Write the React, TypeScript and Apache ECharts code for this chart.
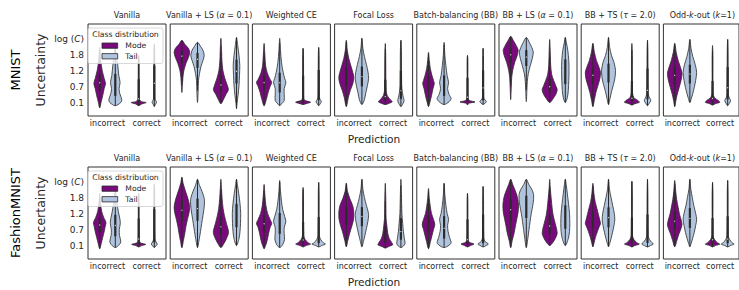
import React, { useEffect, useRef } from 'react';
import * as echarts from 'echarts';

type Profile = [number, number][]; // [uncertainty value, relative density]

const ROW_LABELS = ['MNIST', 'FashionMNIST'];
const METHOD_TITLES = [
  'Vanilla',
  'Vanilla + LS ({i|α} = 0.1)',
  'Weighted CE',
  'Focal Loss',
  'Batch-balancing (BB)',
  'BB + LS ({i|α} = 0.1)',
  'BB + TS ({i|τ} = 2.0)',
  'Odd-{i|k}-out ({i|k}=1)',
];
const X_CATEGORIES = ['incorrect', 'correct'];
const HUES = ['Mode', 'Tail'];
const Y_TICKS = [0.1, 0.65, 1.2, 1.75, 2.3];
const Y_TICK_LABELS = ['0.1', '0.7', '1.2', '1.8', 'log ({i|C})'];

// Each panel: [incorrect-Mode, incorrect-Tail, correct-Mode, correct-Tail]
const MNIST_VANILLA: Profile[] = [
  [[2.02, 0], [1.57, 1.0], [1.22, 2.5], [0.94, 4.5], [0.76, 5.8], [0.59, 4.5], [0.34, 3.0], [0.13, 1.5], [-0.08, 0]],
  [[2.02, 0], [1.74, 1.0], [1.39, 2.5], [1.04, 3.5], [0.8, 4.8], [0.59, 3.8], [0.41, 4.5], [0.2, 6.5], [0.1, 5.5], [-0.01, 0]],
  [[1.74, 0], [1.57, 0.4], [0.34, 0.5], [0.2, 0.8], [0.13, 3], [0.1, 7.5], [0.05, 3], [-0.01, 0]],
  [[2.13, 0], [1.92, 0.4], [0.24, 0.6], [0.17, 1.5], [0.1, 2.2], [0.03, 1.0], [-0.04, 0]],
];
const MNIST_VANILLA_LS: Profile[] = [
  [[2.27, 0], [2.13, 3], [1.99, 6.5], [1.85, 7.8], [1.67, 6.5], [1.46, 4], [1.22, 2], [0.97, 1], [0.69, 0.5], [0.45, 0]],
  [[2.2, 0], [2.06, 3], [1.92, 5.5], [1.74, 6.7], [1.57, 5.5], [1.36, 3.5], [1.11, 2], [0.87, 1], [0.45, 0.6], [0.1, 0]],
  [[2.34, 0], [2.09, 0.5], [1.57, 1], [1.22, 2], [0.94, 4], [0.69, 6.5], [0.55, 7.5], [0.38, 5], [0.2, 2.5], [0.06, 0]],
  [[2.37, 0], [2.09, 1.2], [1.74, 2.5], [1.39, 3.3], [1.04, 3], [0.69, 2.5], [0.34, 1.5], [0.06, 0.5], [-0.11, 0]],
];
const MNIST_WEIGHTED_CE: Profile[] = [
  [[2.16, 0], [1.74, 0.8], [1.39, 1.5], [1.15, 3], [0.94, 5.5], [0.8, 7.6], [0.66, 6], [0.45, 4], [0.24, 2.5], [-0.01, 0]],
  [[2.34, 0], [1.92, 0.8], [1.5, 1.8], [1.15, 3.5], [0.94, 5], [0.8, 6.2], [0.59, 4.5], [0.38, 4.5], [0.17, 4.5], [0.06, 2], [-0.01, 0]],
  [[1.99, 0], [1.74, 0.4], [0.34, 0.5], [0.2, 1], [0.15, 4], [0.11, 7.5], [0.06, 3], [0.03, 0]],
  [[2.02, 0], [1.74, 0.4], [0.31, 0.6], [0.2, 1.5], [0.13, 2.7], [0.06, 1.5], [-0.01, 0]],
];
const MNIST_FOCAL: Profile[] = [
  [[2.27, 0], [1.92, 1], [1.64, 2.5], [1.39, 4.5], [1.15, 6.5], [0.97, 7.5], [0.76, 6.5], [0.52, 4], [0.27, 2], [-0.04, 0]],
  [[2.34, 0], [1.99, 1], [1.71, 2.5], [1.43, 4.5], [1.15, 6.2], [0.94, 6.7], [0.69, 5.5], [0.45, 4], [0.2, 2.5], [0.03, 0]],
  [[2.16, 0], [1.74, 0.4], [0.52, 0.8], [0.34, 2], [0.2, 5], [0.13, 7], [0.06, 3], [0.03, 0]],
  [[2.27, 0], [1.92, 0.5], [0.69, 0.8], [0.45, 1.5], [0.27, 2.5], [0.17, 3.2], [0.06, 2], [-0.04, 0]],
];
const MNIST_BB: Profile[] = [
  [[1.85, 0], [1.57, 0.8], [1.29, 1.8], [1.04, 3.5], [0.87, 5], [0.76, 5.8], [0.59, 4.5], [0.34, 3], [0.13, 1.5], [-0.04, 0]],
  [[2.2, 0], [1.74, 0.8], [1.39, 1.8], [1.04, 3], [0.8, 4.5], [0.59, 3.5], [0.38, 5], [0.24, 7], [0.13, 5], [0.03, 0]],
  [[1.74, 0], [1.57, 0.4], [0.27, 0.5], [0.17, 2], [0.12, 7.5], [0.08, 2], [0.03, 0]],
  [[1.99, 0], [1.74, 0.4], [0.27, 0.6], [0.19, 2], [0.13, 3.3], [0.08, 2], [0.03, 0]],
];
const MNIST_BB_LS: Profile[] = [
  [[2.41, 0], [2.27, 2.5], [2.09, 5.5], [1.92, 7.5], [1.74, 6.5], [1.5, 4], [1.22, 2], [0.97, 1], [0.59, 0.5], [0.2, 0]],
  [[2.37, 0], [2.2, 3], [2.02, 5.5], [1.85, 7], [1.64, 6], [1.39, 4], [1.11, 2], [0.83, 1], [0.45, 0.5], [0.13, 0]],
  [[2.3, 0], [1.92, 0.5], [1.39, 1], [1.08, 2], [0.87, 4], [0.69, 6], [0.55, 7.5], [0.38, 6], [0.24, 3.5], [0.1, 0]],
  [[2.37, 0], [2.2, 1], [1.92, 2.5], [1.57, 3.5], [1.22, 3.7], [0.87, 3.5], [0.52, 3], [0.27, 2], [0.1, 0]],
];
const MNIST_BB_TS: Profile[] = [
  [[2.16, 0], [1.85, 1.5], [1.57, 3.5], [1.36, 5.8], [1.15, 7.6], [0.94, 7], [0.69, 5], [0.45, 3], [0.2, 1.5], [-0.04, 0]],
  [[2.37, 0], [2.02, 1.2], [1.74, 3], [1.5, 5.5], [1.22, 7], [0.97, 6.5], [0.73, 5], [0.48, 3], [0.24, 1.5], [0.03, 0]],
  [[2.16, 0], [1.74, 0.4], [0.45, 0.6], [0.27, 2], [0.17, 6], [0.11, 7.5], [0.06, 3], [0.01, 0]],
  [[2.27, 0], [1.92, 0.4], [0.45, 0.7], [0.31, 1.5], [0.17, 3.2], [0.06, 1.5], [-0.01, 0]],
];
const MNIST_ODD_K: Profile[] = [
  [[2.16, 0], [1.85, 1.5], [1.57, 3.5], [1.32, 6], [1.11, 7.5], [0.87, 6.5], [0.62, 4.5], [0.38, 2.5], [0.17, 1.2], [-0.04, 0]],
  [[2.3, 0], [1.99, 1.2], [1.71, 3], [1.43, 5.5], [1.15, 7], [0.87, 6], [0.62, 4.5], [0.41, 3], [0.24, 1.5], [0.1, 0]],
  [[2.09, 0], [1.74, 0.4], [0.41, 0.6], [0.27, 2], [0.17, 6], [0.11, 7.5], [0.06, 3], [0.01, 0]],
  [[2.3, 0], [1.92, 0.4], [0.41, 0.7], [0.27, 1.5], [0.17, 3], [0.06, 1.5], [-0.01, 0]],
];

const FASHION_VANILLA: Profile[] = [
  [[1.92, 0], [1.57, 0.8], [1.29, 2], [1.08, 4], [0.9, 6.3], [0.76, 5.5], [0.59, 4.5], [0.38, 3], [0.17, 1.5], [-0.01, 0]],
  [[2.2, 0], [1.85, 0.8], [1.57, 1.8], [1.29, 3], [1.04, 4.5], [0.87, 5], [0.66, 4], [0.45, 4.2], [0.24, 5.5], [0.13, 4], [0.03, 0]],
  [[1.92, 0], [1.64, 0.4], [0.31, 0.5], [0.2, 1.5], [0.14, 7], [0.1, 3], [0.05, 0]],
  [[2.23, 0], [1.92, 0.4], [0.34, 0.6], [0.22, 1.8], [0.15, 3], [0.08, 1.5], [0.03, 0]],
];
const FASHION_VANILLA_LS: Profile[] = [
  [[2.48, 0], [2.27, 1.2], [2.06, 3], [1.85, 5], [1.64, 6.8], [1.43, 7.8], [1.22, 7], [1.01, 5.5], [0.76, 4], [0.55, 3], [0.27, 1.5], [0.03, 0]],
  [[2.41, 0], [2.2, 2], [1.99, 4.5], [1.78, 6.5], [1.64, 7], [1.39, 6.5], [1.15, 5.5], [0.87, 4.2], [0.59, 3], [0.34, 1.8], [0.03, 0]],
  [[2.41, 0], [2.09, 0.6], [1.74, 1.2], [1.39, 2.2], [1.15, 3.5], [0.87, 5.5], [0.62, 7.5], [0.52, 7.5], [0.34, 5.5], [0.17, 3], [0.03, 0]],
  [[2.41, 0], [2.2, 1], [1.92, 2.2], [1.57, 3.5], [1.22, 4.2], [0.87, 4], [0.59, 3.5], [0.34, 2.5], [0.1, 0]],
];
const FASHION_WEIGHTED_CE: Profile[] = [
  [[2.23, 0], [1.85, 0.8], [1.5, 1.8], [1.22, 3.5], [1.01, 6], [0.87, 7.6], [0.73, 6], [0.52, 4.5], [0.27, 3], [0.1, 1.5], [-0.01, 0]],
  [[2.37, 0], [1.99, 0.8], [1.64, 1.8], [1.36, 3], [1.11, 5], [0.94, 6.2], [0.73, 4.5], [0.52, 4.5], [0.31, 4.8], [0.13, 3], [0.03, 0]],
  [[2.13, 0], [1.74, 0.4], [0.45, 0.6], [0.31, 2], [0.2, 5], [0.15, 7.5], [0.1, 3], [0.05, 0]],
  [[2.3, 0], [1.92, 0.4], [0.45, 0.6], [0.31, 2], [0.2, 4.5], [0.15, 6.8], [0.1, 3], [0.05, 0]],
];
const FASHION_FOCAL: Profile[] = [
  [[2.27, 0], [1.99, 1.2], [1.74, 3.5], [1.53, 6], [1.36, 7.2], [1.18, 7.5], [1.01, 7.2], [0.83, 6], [0.66, 4.5], [0.48, 3], [0.27, 1.5], [0.06, 0]],
  [[2.41, 0], [2.06, 1], [1.78, 2.5], [1.5, 4.5], [1.29, 6.2], [1.15, 6.7], [0.94, 6], [0.69, 4.5], [0.45, 3], [0.24, 1.5], [0.06, 0]],
  [[2.27, 0], [1.74, 0.5], [1.04, 0.8], [0.8, 1.5], [0.52, 2.5], [0.34, 4], [0.2, 6.5], [0.13, 7.5], [0.06, 3], [0.01, 0]],
  [[2.41, 0], [1.92, 0.5], [1.22, 1], [0.87, 1.8], [0.59, 2.5], [0.34, 3.5], [0.17, 4.2], [0.08, 2.5], [0.03, 0]],
];
const FASHION_BB: Profile[] = [
  [[2.09, 0], [1.74, 0.8], [1.46, 1.8], [1.22, 3], [1.01, 5], [0.83, 6.3], [0.66, 5], [0.45, 3.5], [0.24, 2], [-0.01, 0]],
  [[2.27, 0], [1.85, 0.8], [1.5, 1.8], [1.22, 3], [1.01, 4.5], [0.8, 3.5], [0.59, 4], [0.38, 5.5], [0.2, 7], [0.11, 5], [0.03, 0]],
  [[1.92, 0], [1.64, 0.4], [0.34, 0.5], [0.22, 1.5], [0.15, 6.5], [0.1, 3], [0.05, 0]],
  [[2.16, 0], [1.85, 0.4], [0.38, 0.6], [0.24, 2], [0.15, 5.3], [0.1, 3], [0.05, 0]],
];
const FASHION_BB_LS: Profile[] = [
  [[2.41, 0], [2.23, 2], [2.06, 4], [1.85, 6.2], [1.67, 7.3], [1.5, 7.8], [1.29, 7.5], [1.04, 6.2], [0.8, 4.8], [0.55, 3.5], [0.27, 1.5], [0.03, 0]],
  [[2.41, 0], [2.23, 2.5], [2.06, 5.5], [1.88, 7.3], [1.71, 7.3], [1.5, 6.5], [1.22, 5], [0.94, 3.8], [0.66, 2.7], [0.34, 1.5], [0.03, 0]],
  [[2.41, 0], [2.09, 0.6], [1.74, 1.5], [1.39, 2.5], [1.15, 3.5], [0.87, 5.5], [0.66, 7], [0.52, 7.5], [0.34, 5.5], [0.2, 3], [0.1, 0]],
  [[2.41, 0], [2.2, 1], [1.92, 2], [1.57, 3.2], [1.22, 4.2], [0.87, 4.5], [0.59, 4.2], [0.34, 3], [0.1, 0]],
];
const FASHION_BB_TS: Profile[] = [
  [[2.27, 0], [1.92, 1], [1.64, 2.2], [1.39, 4], [1.18, 5.5], [0.97, 7], [0.87, 7.6], [0.73, 6], [0.59, 4.5], [0.38, 2.5], [0.2, 1.2], [0.06, 0]],
  [[2.41, 0], [2.06, 1], [1.78, 2.5], [1.5, 4.2], [1.22, 5.8], [1.01, 6.3], [0.8, 5.5], [0.55, 4], [0.34, 2.5], [0.17, 1.2], [0.06, 0]],
  [[2.34, 0], [1.92, 0.4], [0.45, 0.6], [0.31, 2], [0.2, 5], [0.15, 7.5], [0.1, 3], [0.05, 0]],
  [[2.41, 0], [1.92, 0.4], [0.45, 0.7], [0.31, 2], [0.2, 4.5], [0.15, 5.8], [0.1, 3], [0.05, 0]],
];
const FASHION_ODD_K: Profile[] = [
  [[2.37, 0], [1.99, 1], [1.71, 2], [1.43, 3.5], [1.18, 5], [0.97, 6.8], [0.83, 7.5], [0.69, 6.5], [0.52, 4.5], [0.31, 2.5], [0.06, 0]],
  [[2.41, 0], [2.06, 1], [1.78, 2.5], [1.5, 4], [1.22, 6], [1.01, 7], [0.8, 6], [0.55, 4.5], [0.34, 2.8], [0.17, 1.3], [0.06, 0]],
  [[2.3, 0], [1.92, 0.4], [0.45, 0.6], [0.31, 2], [0.2, 5], [0.15, 7.5], [0.1, 3], [0.05, 0]],
  [[2.37, 0], [1.92, 0.4], [0.45, 0.6], [0.31, 2], [0.2, 4.5], [0.15, 6.7], [0.1, 3], [0.05, 0]],
];

const MNIST_PANELS = [MNIST_VANILLA, MNIST_VANILLA_LS, MNIST_WEIGHTED_CE, MNIST_FOCAL, MNIST_BB, MNIST_BB_LS, MNIST_BB_TS, MNIST_ODD_K];
const FASHION_PANELS = [FASHION_VANILLA, FASHION_VANILLA_LS, FASHION_WEIGHTED_CE, FASHION_FOCAL, FASHION_BB, FASHION_BB_LS, FASHION_BB_TS, FASHION_ODD_K];
const ROWS_DATA = [MNIST_PANELS, FASHION_PANELS];

// ---- styling / layout ----
const FONT = 'DejaVu Sans';
const COLORS = ['#780a7c', '#b0c4de'];
const EDGE = '#2b2b2b';
const TEXT = '#262626';
const PANEL_LEFT0 = 88;
const PANEL_STEP = 82.2;
const PANEL_W = 78;
const PANEL_H = 92;
const ROW_TOPS = [24, 167];
const Y_MIN = -0.37;
const Y_MAX = 2.84;
const DODGE = [-0.2, 0.2];
const HALF_WIDTH = 0.2;

function quartiles(profile: Profile) {
  const pts = [...profile].sort((a, b) => a[0] - b[0]);
  const cum = [0];
  for (let i = 1; i < pts.length; i++) {
    cum.push(cum[i - 1] + ((pts[i][0] - pts[i - 1][0]) * (pts[i][1] + pts[i - 1][1])) / 2);
  }
  const total = cum[cum.length - 1];
  const q = (p: number) => {
    const t = p * total;
    for (let i = 1; i < pts.length; i++) {
      if (cum[i] >= t) {
        const f = cum[i] === cum[i - 1] ? 0 : (t - cum[i - 1]) / (cum[i] - cum[i - 1]);
        return pts[i - 1][0] + f * (pts[i][0] - pts[i - 1][0]);
      }
    }
    return pts[pts.length - 1][0];
  };
  return { lo: pts[0][0], hi: pts[pts.length - 1][0], q1: q(0.25), med: q(0.5), q3: q(0.75) };
}

export default function App() {
  const ref = useRef<HTMLDivElement>(null);
  useEffect(() => {
    document.body.style.margin = '0';
    if (!ref.current) return;
    const chart = echarts.init(ref.current, undefined, { renderer: 'svg' });

    let dMax = 0;
    ROWS_DATA.forEach((row) => row.forEach((panel) => panel.forEach((prof) => prof.forEach((p) => { if (p[1] > dMax) dMax = p[1]; }))));

    const grids: any[] = [];
    const xAxes: any[] = [];
    const yAxes: any[] = [];
    const series: any[] = [];
    const graphics: any[] = [];

    ROWS_DATA.forEach((row, r) => {
      row.forEach((violins, c) => {
        const idx = r * 8 + c;
        const left = PANEL_LEFT0 + c * PANEL_STEP;
        grids.push({
          left, top: ROW_TOPS[r], width: PANEL_W, height: PANEL_H,
          show: true, borderColor: '#333', borderWidth: 1, backgroundColor: 'transparent', containLabel: false,
        });
        xAxes.push({
          gridIndex: idx, type: 'value', min: -0.5, max: 1.5,
          axisLine: { show: false }, axisTick: { show: false }, splitLine: { show: false },
          axisLabel: {
            customValues: [0, 1], margin: 3, fontSize: 8, fontFamily: FONT, color: TEXT,
            formatter: (v: number) => X_CATEGORIES[Math.round(v)],
          },
        });
        yAxes.push({
          gridIndex: idx, type: 'value', min: Y_MIN, max: Y_MAX,
          axisLine: { show: false }, axisTick: { show: false }, splitLine: { show: false },
          axisLabel: {
            show: c === 0, customValues: Y_TICKS, margin: 4, fontSize: 9, fontFamily: FONT, color: TEXT,
            formatter: (v: number) => {
              const i = Y_TICKS.findIndex((t) => Math.abs(t - v) < 1e-6);
              return i >= 0 ? Y_TICK_LABELS[i] : '';
            },
            rich: { i: { fontStyle: 'italic', fontSize: 9, fontFamily: FONT, color: TEXT } },
          },
        });
        series.push({
          type: 'custom',
          coordinateSystem: 'cartesian2d',
          xAxisIndex: idx, yAxisIndex: idx,
          silent: true,
          data: violins.map((_, k) => [(k >> 1) + DODGE[k & 1], k]),
          encode: { x: 0 },
          renderItem: (_params: any, api: any) => {
            const k = api.value(1);
            const xc = api.value(0);
            const prof = violins[k];
            const right: number[][] = [];
            const leftSide: number[][] = [];
            prof.forEach(([v, d]) => {
              const w = (d / dMax) * HALF_WIDTH;
              right.push(api.coord([xc + w, v]));
              if (d > 0) leftSide.push(api.coord([xc - w, v]));
            });
            const points = right.concat(leftSide.reverse());
            let minX = Infinity, minY = Infinity, maxX = -Infinity, maxY = -Infinity;
            points.forEach((p) => {
              if (p[0] < minX) minX = p[0];
              if (p[0] > maxX) maxX = p[0];
              if (p[1] < minY) minY = p[1];
              if (p[1] > maxY) maxY = p[1];
            });
            const s = quartiles(prof);
            const iqr = s.q3 - s.q1;
            const wLo = Math.max(s.lo, s.q1 - 1.5 * iqr);
            const wHi = Math.min(s.hi, s.q3 + 1.5 * iqr);
            const pLo = api.coord([xc, wLo]);
            const pHi = api.coord([xc, wHi]);
            const p1 = api.coord([xc, s.q1]);
            const p3 = api.coord([xc, s.q3]);
            const pm = api.coord([xc, s.med]);
            return {
              type: 'group',
              children: [
                {
                  type: 'polygon',
                  shape: { points, smooth: 0.3, smoothConstraint: [[minX, minY], [maxX, maxY]] },
                  style: { fill: COLORS[k & 1], stroke: EDGE, lineWidth: 0.8 },
                },
                { type: 'line', shape: { x1: pLo[0], y1: pLo[1], x2: pHi[0], y2: pHi[1] }, style: { stroke: EDGE, lineWidth: 1 } },
                { type: 'line', shape: { x1: p1[0], y1: p1[1], x2: p3[0], y2: p3[1] }, style: { stroke: EDGE, lineWidth: 2.2 } },
                { type: 'circle', shape: { cx: pm[0], cy: pm[1], r: 0.6 }, style: { fill: '#dddddd' } },
              ],
            };
          },
        });
        // panel title
        graphics.push({
          type: 'text', x: left + PANEL_W / 2, y: ROW_TOPS[r] - 9,
          style: {
            text: METHOD_TITLES[c], fontSize: 8, fontFamily: FONT, fill: TEXT, align: 'center', verticalAlign: 'middle',
            rich: { i: { fontStyle: 'italic', fontSize: 8, fontFamily: FONT, fill: TEXT } },
          },
        });
      });

      const midY = ROW_TOPS[r] + PANEL_H / 2;
      graphics.push({
        type: 'text', x: 15, y: midY, rotation: Math.PI / 2,
        style: { text: ROW_LABELS[r], fontSize: 13, fontFamily: FONT, fill: '#000', align: 'center', verticalAlign: 'middle' },
      });
      graphics.push({
        type: 'text', x: 40, y: midY, rotation: Math.PI / 2,
        style: { text: 'Uncertainty', fontSize: 12.5, fontFamily: FONT, fill: TEXT, align: 'center', verticalAlign: 'middle' },
      });
      graphics.push({
        type: 'text', x: 374, y: ROW_TOPS[r] + PANEL_H + 22.5,
        style: { text: 'Prediction', fontSize: 10.6, fontFamily: FONT, fill: TEXT, align: 'center', verticalAlign: 'middle' },
      });

      // legend box
      const lx = PANEL_LEFT0;
      const ly = ROW_TOPS[r] + 4;
      graphics.push({
        type: 'group', z: 100,
        children: [
          { type: 'rect', z: 100, shape: { x: lx, y: ly, width: 75, height: 35.5, r: 2 }, style: { fill: 'rgba(255,255,255,0.8)', stroke: '#cfcfcf', lineWidth: 0.8 } },
          { type: 'text', z: 101, x: lx + 37.5, y: ly + 6.3, style: { text: 'Class distribution', fontSize: 7.7, fontFamily: FONT, fill: TEXT, align: 'center', verticalAlign: 'middle' } },
          ...HUES.map((h, k) => ({
            type: 'group', z: 101,
            children: [
              { type: 'rect', z: 101, shape: { x: lx + 14, y: ly + 15 + k * 10.6, width: 15.7, height: 5.3 }, style: { fill: COLORS[k], stroke: EDGE, lineWidth: 0.8 } },
              { type: 'text', z: 101, x: lx + 37.3, y: ly + 17.8 + k * 10.6, style: { text: h, fontSize: 7.7, fontFamily: FONT, fill: TEXT, align: 'left', verticalAlign: 'middle' } },
            ],
          })),
        ],
      });
    });

    chart.setOption({
      animation: false,
      backgroundColor: '#ffffff',
      grid: grids,
      xAxis: xAxes,
      yAxis: yAxes,
      series,
      graphic: { elements: graphics },
    });
    return () => chart.dispose();
  }, []);
  return <div ref={ref} style={{ width: 739, height: 290 }} />;
}
